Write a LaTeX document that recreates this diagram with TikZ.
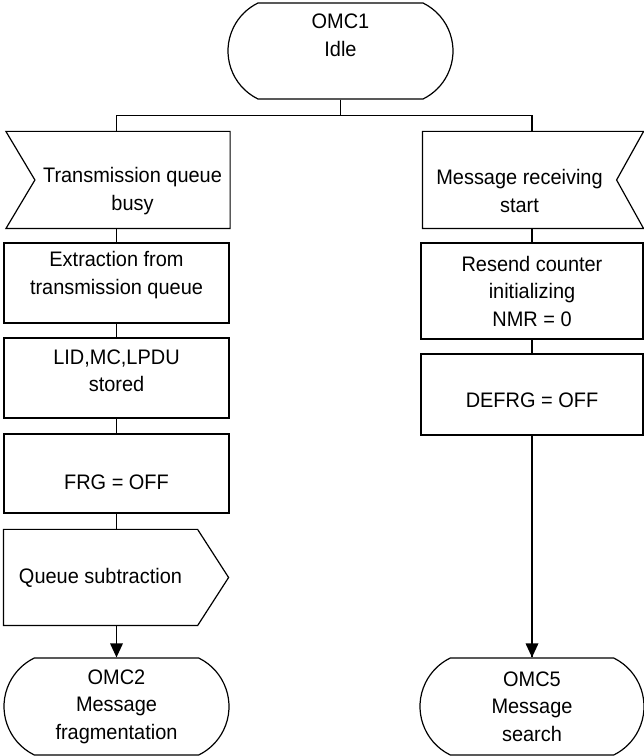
\documentclass[tikz,border=0pt]{standalone}
\usepackage{fontspec}
\setmainfont{Liberation Sans}[FakeStretch=0.95]
\usetikzlibrary{shapes.misc}

\begin{document}
\begin{tikzpicture}[
x=1pt,y=1pt,
font=\fontsize{21}{27.5}\selectfont,
line width=1.2pt,
terminal/.style={
rounded rectangle,
rounded rectangle arc length=128,
draw,
align=center,
inner sep=0pt,
minimum width=225pt,
minimum height=97pt
},
proc/.style={
rectangle,
draw,
align=center,
inner sep=0pt,
minimum width=225pt,
minimum height=80pt
},
sigbody/.style={
rectangle,
align=center,
inner sep=0pt,
minimum width=194pt,
minimum height=96pt
}
]

\useasboundingbox (0,0) rectangle (644,756);

\node[terminal, minimum height=96pt] (omc1) at (340.5,705)
{OMC1\\Idle\\[4.5pt]\mbox{}};

% left branch
\node[sigbody] (txbusy) at (132.5,576)
{\mbox{}\\[9.5pt]Transmission queue\\busy};

\node[proc] (extract) at (116.5,473)
{Extraction from\\transmission queue\\[-7pt]\mbox{}};

\node[proc] (stored) at (116.5,378)
{LID,MC,LPDU\\stored\\[-13pt]\mbox{}};

\node[proc, minimum height=79pt] (frg) at (116.5,282.5)
{\mbox{}\\[4.5pt]FRG = OFF};

\node[sigbody, minimum width=193pt, minimum height=95pt] (qsub) at (100.5,178.5)
{Queue subtraction};

\node[terminal] (omc2) at (116.5,49.5)
{OMC2\\Message\\fragmentation};

% right branch
\node[sigbody, minimum width=193pt] (rxstart) at (519.5,576)
{\mbox{}\\[9.5pt]Message receiving\\start};

\node[proc, minimum width=222pt, minimum height=96pt] (resend) at (532,465)
{Resend counter\\initializing\\NMR = 0};

\node[proc, minimum width=222pt, minimum height=81pt] (defrg) at (532,361.5)
{\mbox{}\\[-1.5pt]DEFRG = OFF};

\node[terminal, minimum width=224pt] (omc5) at (532,49.5)
{OMC5\\Message\\search};

% signal outlines
\draw (txbusy.north east) -- (txbusy.south east) -- ([xshift=-29pt]txbusy.south west)
-- (txbusy.west) -- ([xshift=-29pt]txbusy.north west) -- cycle;
\draw (rxstart.north west) -- (rxstart.south west) -- ([xshift=27pt]rxstart.south east)
-- (rxstart.east) -- ([xshift=27pt]rxstart.north east) -- cycle;
\draw (qsub.north west) -- (qsub.north east) -- ([xshift=31pt]qsub.east)
-- (qsub.south east) -- (qsub.south west) -- cycle;

% connectors
\draw (omc1.south) -- ++(0,-16) -| (extract.north |- txbusy.north);
\draw (omc1.south) -- ++(0,-16) -| (resend.north |- rxstart.north);
\draw (extract.north |- txbusy.south) -- (extract.north);
\draw (extract.south) -- (stored.north);
\draw (stored.south) -- (frg.north);
\draw (frg.south) -- (frg.south |- qsub.north);
\draw (frg.south |- qsub.south) -- (omc2.north);
\draw (resend.north |- rxstart.south) -- (resend.north);
\draw (resend.south) -- (defrg.north);
\draw (defrg.south) -- (omc5.north);

% arrowheads
\fill (omc2.north) -- ++(-6.5,14) -- ++(13,0) -- cycle;
\fill (omc5.north) -- ++(-6.5,14) -- ++(13,0) -- cycle;

\end{tikzpicture}
\end{document}
